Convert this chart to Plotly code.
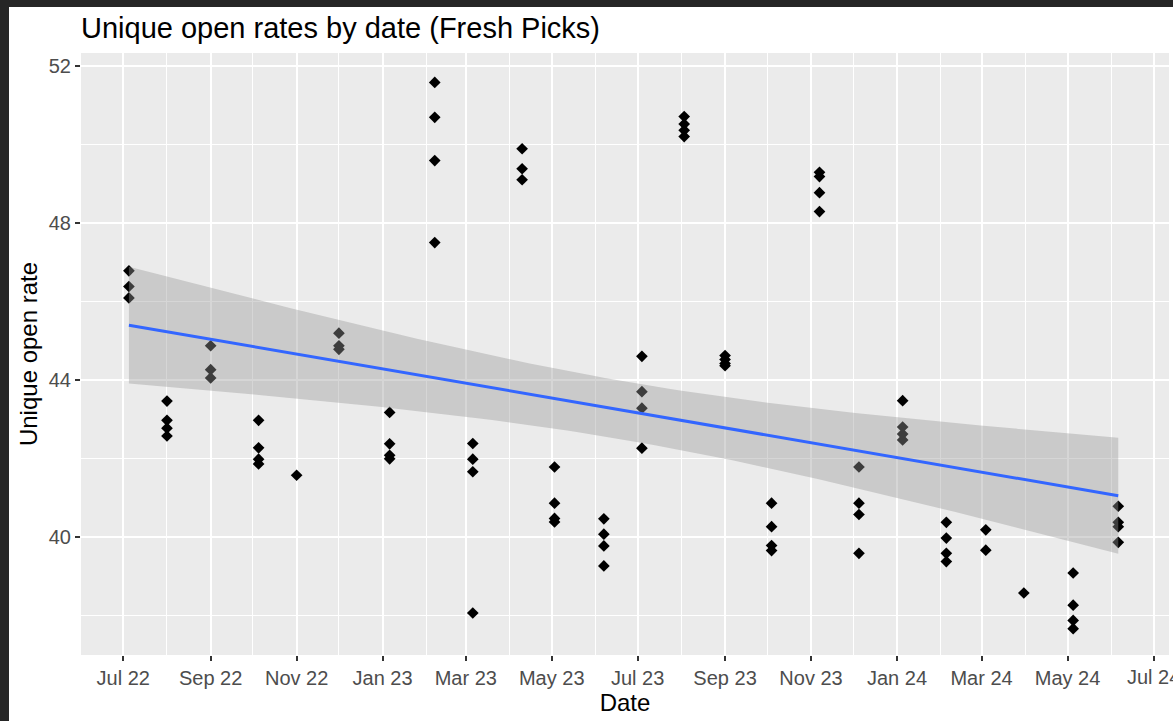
import numpy as np
import pandas as pd
import plotly.graph_objects as go

# ---- data ----
send_dates = ["2022-07-05", "2022-08-01", "2022-09-01", "2022-10-05", "2022-11-01",
              "2022-12-01", "2023-01-06", "2023-02-07", "2023-03-06", "2023-04-10",
              "2023-05-03", "2023-06-07", "2023-07-04", "2023-08-03", "2023-09-01",
              "2023-10-04", "2023-11-07", "2023-12-05", "2024-01-05", "2024-02-05",
              "2024-03-04", "2024-03-31", "2024-05-05", "2024-06-06"]
rates_by_send = [
    [46.78, 46.38, 46.09],
    [43.46, 42.97, 42.77, 42.57],
    [44.87, 44.26, 44.05],
    [42.97, 42.27, 41.98, 41.86],
    [41.57],
    [45.19, 44.87, 44.78],
    [43.17, 42.37, 42.08, 41.99],
    [51.58, 50.69, 49.59, 47.50],
    [42.38, 41.98, 41.66, 38.06],
    [49.89, 49.38, 49.10],
    [41.78, 40.86, 40.47, 40.38],
    [40.46, 40.07, 39.77, 39.26],
    [44.60, 43.70, 43.28, 42.26],
    [50.71, 50.52, 50.36, 50.20],
    [44.62, 44.52, 44.42, 44.36],
    [40.86, 40.26, 39.78, 39.65],
    [49.29, 49.18, 48.77, 48.29],
    [41.78, 40.86, 40.57, 39.58],
    [43.47, 42.80, 42.62, 42.47],
    [40.37, 39.97, 39.58, 39.37],
    [40.18, 39.66],
    [38.57],
    [39.08, 38.26, 37.87, 37.66],
    [40.78, 40.37, 40.26, 39.86],
]
title_text = "Unique open rates by date (Fresh Picks)"
x_label = "Date"
y_label = "Unique open rate"
last_tick = "2024-07-01"   # tick whose label is cut at the right edge

# ---- long form ----
dates = []
rates = []
for d, vals in zip(send_dates, rates_by_send):
    for v in vals:
        dates.append(d)
        rates.append(v)
dates = pd.to_datetime(dates)
rates = np.array(rates)

# ---- linear model with 95% confidence band (like geom_smooth(method="lm")) ----
xnum = (dates - pd.Timestamp("1970-01-01")).days.values.astype(float)
n = len(xnum)
slope, intercept = np.polyfit(xnum, rates, 1)
resid = rates - (intercept + slope * xnum)
mse = np.sum(resid ** 2) / (n - 2)
xbar = xnum.mean()
sxx = np.sum((xnum - xbar) ** 2)
T975 = 1.989  # t quantile, df = n - 2
grid = np.linspace(xnum.min(), xnum.max(), 80)
fit = intercept + slope * grid
se = np.sqrt(mse * (1.0 / n + (grid - xbar) ** 2 / sxx))
upper = fit + T975 * se
lower = fit - T975 * se
grid_dates = pd.to_datetime(grid, unit="D")

FONT = "Liberation Sans, Arial, sans-serif"

fig = go.Figure()
fig.add_trace(go.Scatter(
    x=dates, y=rates, mode="markers",
    marker=dict(symbol="diamond", size=9, color="black", line=dict(width=0)),
    showlegend=False, hoverinfo="x+y"))
fig.add_trace(go.Scatter(
    x=list(grid_dates) + list(grid_dates[::-1]),
    y=list(upper) + list(lower[::-1]),
    fill="toself", fillcolor="rgba(153,153,153,0.4)",
    line=dict(width=0), mode="lines", showlegend=False, hoverinfo="skip"))
fig.add_trace(go.Scatter(
    x=grid_dates, y=fit, mode="lines",
    line=dict(color="#3366FF", width=3), showlegend=False))

W, H = 1173, 721
ml, mr, mt, mb = 81, 4, 53, 66
pw, ph = W - ml - mr, H - mt - mb

def px_x(p):
    return (p - ml) / pw

def px_y(p):
    return 1 - (p - mt) / ph

fig.update_layout(
    width=W, height=H,
    margin=dict(l=ml, r=mr, t=mt, b=mb),
    paper_bgcolor="white", plot_bgcolor="#EBEBEB",
    font=dict(family=FONT),
    title=dict(text=title_text, x=0, xref="paper", xanchor="left",
               y=1 - 28 / H, yref="container", yanchor="middle",
               font=dict(size=29, color="black", family=FONT)),
    shapes=[
        dict(type="rect", xref="paper", yref="paper", x0=px_x(-5), x1=px_x(W + 5),
             y0=px_y(7), y1=px_y(-5), fillcolor="#262626", line=dict(width=0), layer="above"),
        dict(type="rect", xref="paper", yref="paper", x0=px_x(-5), x1=px_x(9),
             y0=px_y(H + 5), y1=px_y(-5), fillcolor="#262626", line=dict(width=0), layer="above"),
    ],
    annotations=[
        dict(text=pd.Timestamp(last_tick).strftime("%b %y"), x=last_tick, xref="x",
             y=px_y(677), yref="paper", xanchor="center", yanchor="middle",
             showarrow=False, font=dict(size=20, color="#4D4D4D", family=FONT)),
    ],
)
fig.update_xaxes(
    type="date", range=["2022-06-01", "2024-07-12"],
    tick0="2022-07-01", dtick="M2", tickformat="%b %y",
    showgrid=True, gridcolor="white", gridwidth=2,
    minor=dict(tick0="2022-06-01", dtick="M2", showgrid=True, gridcolor="white", gridwidth=1, ticks=""),
    zeroline=False, showline=False,
    ticks="outside", ticklen=5, tickwidth=1.5, tickcolor="#333333",
    tickfont=dict(size=20, color="#4D4D4D", family=FONT),
    title=dict(text=x_label, font=dict(size=24, color="black", family=FONT), standoff=4),
    automargin=False,
)
fig.update_yaxes(
    range=[36.99, 52.33], tick0=40, dtick=4,
    showgrid=True, gridcolor="white", gridwidth=2,
    minor=dict(tick0=38, dtick=2, showgrid=True, gridcolor="white", gridwidth=1, ticks=""),
    zeroline=False, showline=False,
    ticks="outside", ticklen=5, tickwidth=1.5, tickcolor="#333333",
    tickfont=dict(size=20, color="#4D4D4D", family=FONT),
    title=dict(text=y_label, font=dict(size=24, color="black", family=FONT), standoff=4),
    automargin=False,
)

fig.write_html("out.html", config={"displayModeBar": False},
               post_script="document.body.style.margin='0';document.body.style.overflow='hidden';")
